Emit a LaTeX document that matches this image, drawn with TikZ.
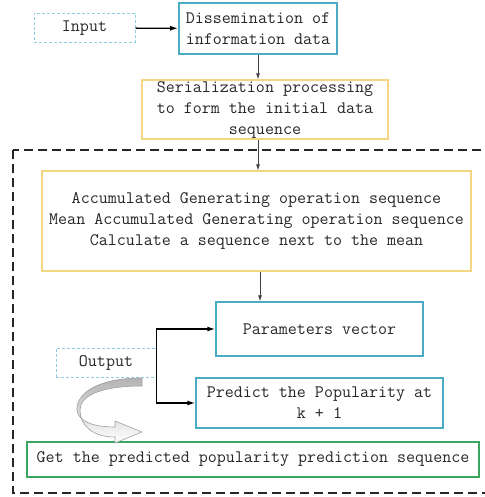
\documentclass[tikz,border=0pt]{standalone}
\usetikzlibrary{arrows.meta}
\definecolor{cian}{RGB}{75,172,198}
\definecolor{cianclaro}{RGB}{145,205,225}
\definecolor{amarillo}{RGB}{242,214,130}
\definecolor{verde}{RGB}{60,165,95}
\tikzset{
    caja/.style={draw, inner sep=0pt, align=center, text=black!85,
        font=\ttfamily\fontsize{17.5}{21}\selectfont},
    entrada/.style={caja, draw=cianclaro, line width=1pt, dash pattern=on 3pt off 2pt},
    flecha/.style={-{Latex[length=6pt,width=4pt]}, black!75, line width=0.8pt},
    flechan/.style={-{Latex[length=8pt,width=5pt]}, black, line width=1.3pt}
}
\begin{document}
\begin{tikzpicture}[x=1pt,y=-1pt]
    \useasboundingbox (0,0) rectangle (484,497);

    % Recuadro discontinuo
    \draw[black!85, line width=1.6pt, dash pattern=on 9pt off 5pt] (13,150) rectangle (492,493);

    % Cajas
    \node[entrada, minimum width=101pt, minimum height=29pt] (inp) at (84.5,28) {Input};
    \node[caja, draw=cian, line width=1.8pt, minimum width=158pt, minimum height=51pt] (dis) at (258,28.5)
        {Dissemination of\\information data};
    \node[caja, draw=amarillo, line width=1.2pt, minimum width=246pt, minimum height=59pt] (ser) at (265,109.5)
        {Serialization processing\\to form the initial data\\sequence};
    \node[caja, draw=amarillo, line width=1.2pt, minimum width=429pt, minimum height=100pt] (acc) at (256.5,221)
        {Accumulated Generating operation sequence\\Mean Accumulated Generating operation sequence\\Calculate a sequence next to the mean};
    \node[caja, draw=cian, line width=1.4pt, minimum width=207pt, minimum height=54pt] (par) at (319.5,329)
        {Parameters vector};
    \node[entrada, minimum width=100pt, minimum height=29pt] (out) at (106,362.5) {Output};
    \node[caja, draw=cian, line width=1.4pt, minimum width=247pt, minimum height=50pt] (pre) at (319.5,403)
        {Predict the Popularity at\\k + 1};
    \node[caja, draw=verde, line width=2pt, minimum width=452pt, minimum height=35pt] (get) at (253,459.5)
        {Get the predicted popularity prediction sequence};

    % Flechas
    \draw[flechan] (inp) -- (dis);
    \draw[flecha] (dis.south) -- (dis.south |- ser.north);
    \draw[flecha] (dis.south |- ser.south) -- (dis.south |- acc.north);
    \draw[flecha] (acc.south -| 260,0) -- (par.north -| 260,0);
    \draw[flechan] (out.east) |- (par.west);
    \draw[flechan] (out.east) |- (pre.west);

    % Flecha curva
    \draw[gray!75, line width=0.6pt, top color=gray!60, bottom color=white]
        (142,378) .. controls (95,378) and (76,395) .. (77,410)
        .. controls (78,422) and (95,427) .. (115,427)
        -- (115,421) -- (142,432) -- (115,443) -- (115,437)
        .. controls (92,437) and (80,425) .. (80,410)
        .. controls (80,396) and (100,386) .. (142,386) -- cycle;
\end{tikzpicture}
\end{document}
